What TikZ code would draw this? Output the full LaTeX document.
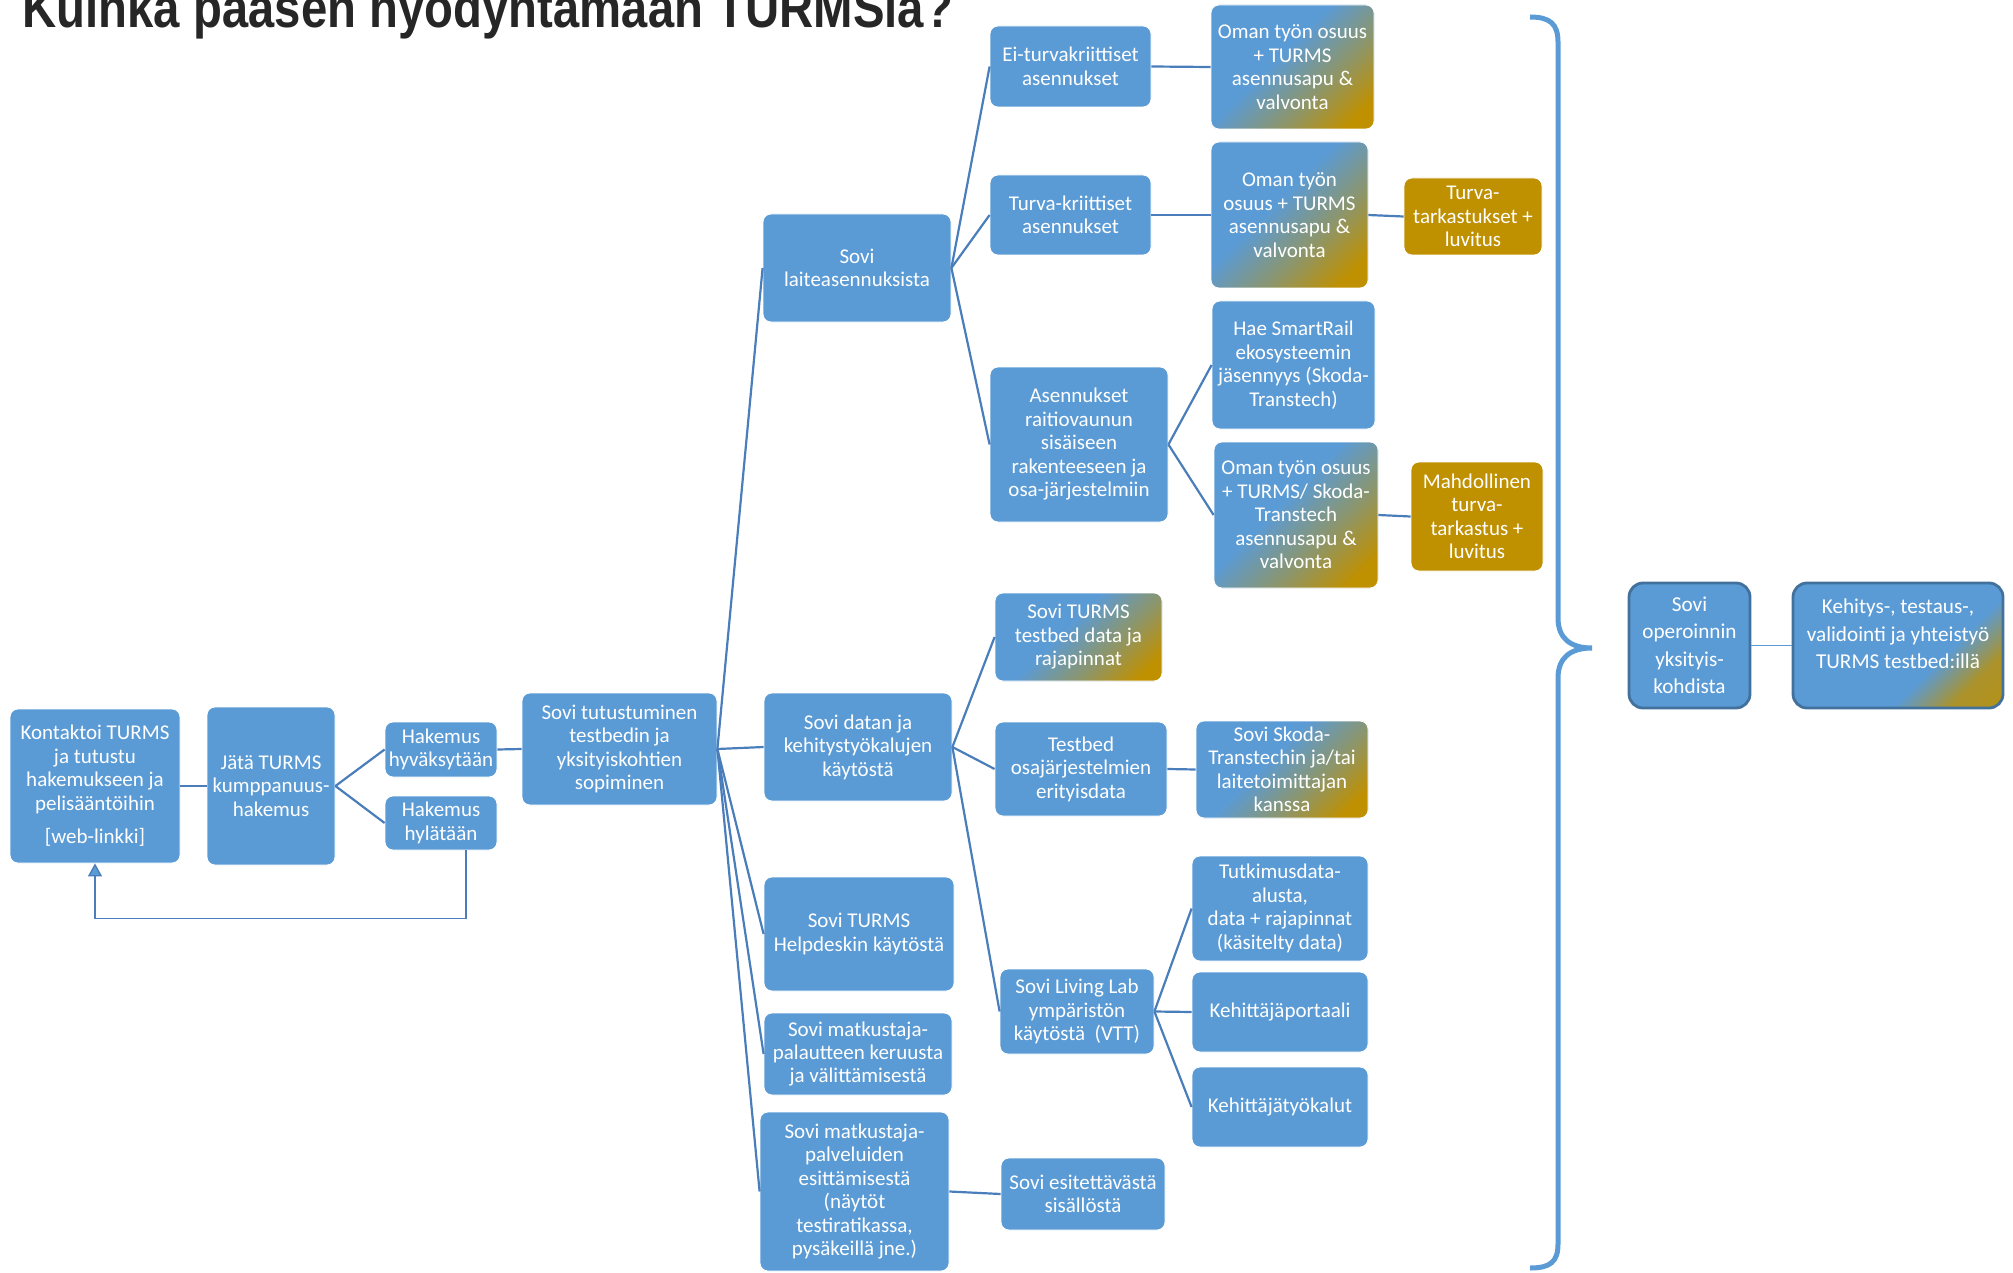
\documentclass[tikz,border=0pt]{standalone}
\usepackage{fontspec}
\setmainfont{Carlito}
\newfontfamily\titlefont{Liberation Sans}
\usepackage{xcolor}
\definecolor{boxblue}{HTML}{5B9BD5}
\definecolor{lineblue}{HTML}{4A7EBB}
\definecolor{gold}{HTML}{BF9000}
\definecolor{edgeblue}{HTML}{41719C}
\definecolor{titlegray}{HTML}{262626}
\usetikzlibrary{arrows.meta}
\pgfdeclareverticalshading{bluegold}{100bp}{color(0bp)=(gold); color(22bp)=(gold); color(38bp)=(gold!50!boxblue); color(56bp)=(boxblue); color(100bp)=(boxblue)}
\pgfdeclareverticalshading{bluecorner}{100bp}{color(0bp)=(gold); color(26bp)=(gold!80!boxblue); color(38bp)=(boxblue); color(100bp)=(boxblue)}

\begin{document}
\begin{tikzpicture}[x=0.5pt, y=-0.5pt,
    wh/.style 2 args={minimum width=#1*0.5pt, minimum height=#2*0.5pt},
    box/.style={rectangle, rounded corners=4pt, fill=boxblue, draw=white, line width=0.4pt,
      text=white, align=center, inner sep=1pt, font=\fontsize{10.5}{11.75}\selectfont},
    mix/.style={box, shade, shading=bluegold, shading angle=45},
    goldbox/.style={box, fill=gold},
    opbox/.style={box, draw=edgeblue, line width=1.4pt, rounded corners=7pt,
      font=\fontsize{10.6}{13.75}\selectfont},
    link/.style={draw=lineblue, line width=1.1pt},
    feedback/.style={draw=lineblue, line width=0.7pt, -{Triangle[length=6.5pt, width=7pt, fill=boxblue]}},
    brace/.style={draw=boxblue, line width=2.5pt}]

  \useasboundingbox (0,0) rectangle (2013,1273);

  \begin{scope}
    \clip (0,0) rectangle (2013,1273);
    \node[anchor=base west, inner sep=0pt, text=titlegray, font=\titlefont\bfseries\fontsize{28}{30}\selectfont]
      (title) at (22,28) {\scalebox{0.845}[1]{Kuinka pääsen hyödyntämään TURMSia?}};
  \end{scope}

  \node[box, wh={170}{154}] (kontakt) at (95,786) {Kontaktoi TURMS\\ ja tutustu\\ hakemukseen ja\\ pelisääntöihin\\[5pt] {[web-linkki]}};
  \node[box, wh={128}{158}] (jata) at (271,786) {Jätä TURMS\\ kumppanuus-\\ hakemus};
  \node[box, wh={112}{55}] (hyv) at (441,749.5) {Hakemus\\ hyväksytään};
  \node[box, wh={112}{54}] (hyl) at (441,823) {Hakemus\\ hylätään};
  \node[box, wh={195}{112}] (tutust) at (619.5,749) {Sovi tutustuminen\\ testbedin ja\\ yksityiskohtien\\ sopiminen};

  \node[box, wh={188}{108}] (laite) at (857,268) {Sovi\\ laiteasennuksista};
  \node[box, wh={188}{108}] (datan) at (858,747) {Sovi datan ja\\ kehitystyökalujen\\ käytöstä};
  \node[box, wh={190}{114}] (help) at (859,934) {Sovi TURMS\\ Helpdeskin käytöstä};
  \node[box, wh={188}{82}] (palaute) at (858,1054) {Sovi matkustaja-\\ palautteen keruusta\\ ja välittämisestä};
  \node[box, wh={189}{159}] (palvelu) at (854.5,1191.5) {Sovi matkustaja-\\ palveluiden\\ esittämisestä\\ (näytöt\\ testiratikassa,\\ pysäkeillä jne.)};

  \node[box, wh={161}{81}] (eiturva) at (1070.5,66.5) {Ei-turvakriittiset\\ asennukset};
  \node[box, wh={161}{80}] (turva) at (1070.5,215) {Turva-kriittiset\\ asennukset};
  \node[box, wh={178}{155}] (asenn) at (1079,444.5) {Asennukset\\ raitiovaunun\\ sisäiseen\\ rakenteeseen ja\\ osa-järjestelmiin};
  \node[mix, wh={163}{124}] (oman1) at (1292.5,67) {Oman työn osuus\\ + TURMS\\ asennusapu \&\\ valvonta};
  \node[mix, wh={157}{146}] (oman2) at (1289.5,215) {Oman työn\\ osuus + TURMS\\ asennusapu \&\\ valvonta};
  \node[goldbox, wh={138}{77}] (tarkast) at (1473,216.5) {Turva-\\ tarkastukset +\\ luvitus};
  \node[box, wh={163}{128}] (smartrail) at (1293.5,365) {Hae SmartRail\\ ekosysteemin\\ jäsennyys (Skoda-\\ Transtech)};
  \node[mix, wh={164}{146}] (oman3) at (1296,515) {Oman työn osuus\\ + TURMS/ Skoda-\\ Transtech\\ asennusapu \&\\ valvonta};
  \node[goldbox, wh={132}{109}] (mahd) at (1477,516.5) {Mahdollinen\\ turva-\\ tarkastus +\\ luvitus};

  \node[mix, wh={167}{88}] (tbdata) at (1078.5,637) {Sovi TURMS\\ testbed data ja\\ rajapinnat};
  \node[box, wh={172}{94}] (osajarj) at (1081,769) {Testbed\\ osajärjestelmien\\ erityisdata};
  \node[mix, wh={172}{97}] (skoda) at (1282,769.5) {Sovi Skoda-\\ Transtechin ja/tai\\ laitetoimittajan\\ kanssa};
  \node[box, wh={154}{85}] (livlab) at (1077,1011.5) {Sovi Living Lab\\ ympäristön\\ käytöstä~~(VTT)};
  \node[box, wh={176}{105}] (tutkimus) at (1280,908.5) {Tutkimusdata-\\ alusta,\\ data + rajapinnat\\ (käsitelty data)};
  \node[box, wh={176}{80}] (portaali) at (1280,1012) {Kehittäjäportaali};
  \node[box, wh={176}{80}] (tyokalut) at (1280,1107) {Kehittäjätyökalut};
  \node[box, wh={164}{72}] (esit) at (1083,1194) {Sovi esitettävästä\\ sisällöstä};

  \node[opbox, wh={121}{125}] (operoinnin) at (1689.5,645.5) {Sovi\\ operoinnin\\ yksityis-\\ kohdista};
  \node[opbox, wh={210}{125}, shade, shading=bluecorner, shading angle=45] (kehitys) at (1898,645.5)
    {\raisebox{5pt}[\height][\depth]{\begin{tabular}{@{}c@{}}Kehitys-, testaus-,\\ validointi ja yhteistyö\\ TURMS testbed:illä\end{tabular}}};

  \draw[link] (kontakt.east) -- (jata.west);
  \draw[link] (jata.east) -- (hyv.west);
  \draw[link] (jata.east) -- (hyl.west);
  \draw[link] (hyv.east) -- (tutust.west);
  \draw[feedback] ([xshift=12.5pt]hyl.south) -- ++(0,68) -| (kontakt.south);

  \draw[link] (tutust.east) -- (laite.west);
  \draw[link] (tutust.east) -- (datan.west);
  \draw[link] (tutust.east) -- (help.west);
  \draw[link] (tutust.east) -- (palaute.west);
  \draw[link] (tutust.east) -- (palvelu.west);

  \draw[link] (laite.east) -- (eiturva.west);
  \draw[link] (laite.east) -- (turva.west);
  \draw[link] (laite.east) -- (asenn.west);
  \draw[link] (eiturva.east) -- (oman1.west);
  \draw[link] (turva.east) -- (oman2.west);
  \draw[link] (oman2.east) -- (tarkast.west);
  \draw[link] (asenn.east) -- (smartrail.west);
  \draw[link] (asenn.east) -- (oman3.west);
  \draw[link] (oman3.east) -- (mahd.west);

  \draw[link] (datan.east) -- (tbdata.west);
  \draw[link] (datan.east) -- (osajarj.west);
  \draw[link] (datan.east) -- (livlab.west);
  \draw[link] (osajarj.east) -- (skoda.west);
  \draw[link] (livlab.east) -- (tutkimus.west);
  \draw[link] (livlab.east) -- (portaali.west);
  \draw[link] (livlab.east) -- (tyokalut.west);
  \draw[link] (palvelu.east) -- (esit.west);

  \draw[brace] (1530,17) .. controls (1550,17) and (1558,24) .. (1558,42) -- (1558,618)
    .. controls (1558,638) and (1570,648) .. (1592,648)
    .. controls (1570,648) and (1558,658) .. (1558,678) -- (1558,1244)
    .. controls (1558,1262) and (1550,1268) .. (1530,1268);

  \draw[draw=boxblue, line width=0.6pt] (operoinnin.east) -- (kehitys.west);

\end{tikzpicture}
\end{document}
